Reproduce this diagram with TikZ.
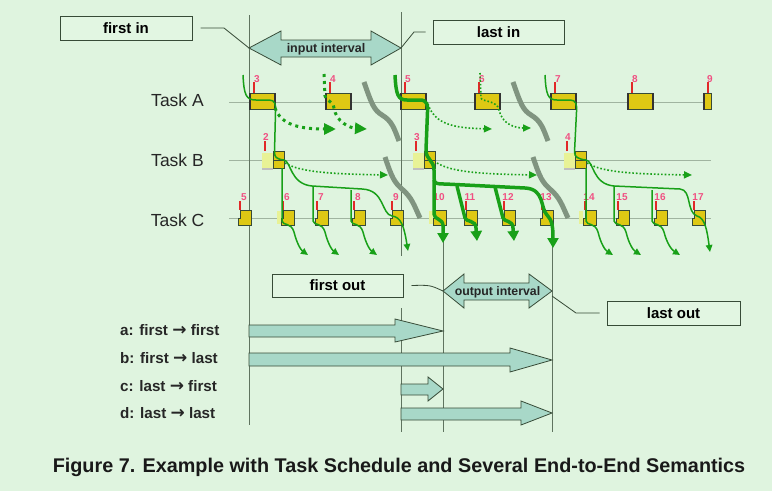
\documentclass[tikz,border=0pt]{standalone}
\usepackage{fontspec}
\setmainfont{Liberation Sans}
\newfontfamily\arrowfont{DejaVu Sans}
\usetikzlibrary{arrows.meta,calc}
\definecolor{bg}{RGB}{223,244,223}
\definecolor{boxfill}{RGB}{226,246,226}
\definecolor{edge}{RGB}{55,75,55}
\definecolor{tealf}{RGB}{168,216,200}
\definecolor{vline}{RGB}{95,115,95}
\definecolor{tline}{RGB}{160,180,160}
\definecolor{jobyellow}{RGB}{222,200,20}
\definecolor{pale}{RGB}{232,242,150}
\definecolor{mred}{RGB}{225,40,40}
\definecolor{mpink}{RGB}{240,80,130}
\definecolor{flow}{RGB}{24,160,24}
\definecolor{brk}{RGB}{128,148,128}
\newcommand{\semarrow}{{\arrowfont\bfseries\fontsize{17}{18}\selectfont →}}
\tikzset{
  labelbox/.style={draw=edge, line width=1pt, fill=boxfill, minimum width=132pt, minimum height=24pt, inner sep=0pt, font=\fontsize{15}{18}\selectfont\bfseries},
  tasklab/.style={font=\fontsize{17.5}{20}\selectfont, text=black!85, inner sep=0pt},
  semlab/.style={font=\fontsize{15.2}{18}\selectfont\bfseries, text=black!85, anchor=west, inner sep=0pt},
  intlab/.style={font=\fontsize{12.5}{14}\selectfont\bfseries, text=black!85, inner sep=0pt},
  leader/.style={draw=edge, line width=0.8pt},
  timeline/.style={draw=vline, line width=1pt},
  taskline/.style={draw=tline, line width=0.8pt},
  fatarrow/.style={draw=edge, line width=0.8pt, fill=tealf},
  jobA/.style={draw=edge, fill=jobyellow, minimum width=24pt, minimum height=16pt, inner sep=0pt, line width=0.7pt},
  jobB/.style={draw=edge, fill=jobyellow, minimum width=11pt, minimum height=17pt, inner sep=0pt, line width=0.9pt},
  jobCc/.style={minimum width=13pt, minimum height=15pt, inner sep=0pt},
  jobCshape/.style={draw=edge, fill=jobyellow, line width=1pt},
  sidebar/.style={draw=black!80, line width=2.4pt},
  marker/.style={draw=mred, line width=1.8pt},
  numlab/.style={font=\fontsize{10}{10}\selectfont\bfseries, text=mpink, inner sep=0pt},
  flowthin/.style={draw=flow, line width=1.5pt},
  flowthick/.style={draw=flow, line width=3.5pt},
  thintip/.style={-{Triangle[length=7pt,width=6.5pt]}},
  thicktip/.style={-{Triangle[length=10pt,width=11pt]}},
  dotthick/.style={draw=flow, line width=3pt, dash pattern=on 3pt off 4pt, -{Triangle[length=12pt,width=11pt]}},
  dotthin/.style={draw=flow, line width=1.6pt, dash pattern=on 1.6pt off 2pt, -{Triangle[length=8pt,width=7pt]}},
  breakline/.style={draw=brk, line width=5pt},
}
\begin{document}
\begin{tikzpicture}[x=1pt,y=-1pt]
\fill[bg] (0,0) rectangle (772,491);
\useasboundingbox (0,0) rectangle (772,491);

% task lines
\draw[taskline] (229,102) -- (711,102);
\draw[taskline] (229,160) -- (711,160);
\draw[taskline] (229,218) -- (711,218);

% time lines
\draw[timeline] (249,15) -- (249,425);
\draw[timeline] (401,12) -- (401,256);
\draw[timeline] (401,308) -- (401,432);
\draw[timeline] (443,216) -- (443,432);
\draw[timeline] (552,216) -- (552,432);

% task labels
\node[tasklab] (tA) at (177.5,100) {Task A};
\node[tasklab] (tB) at (177.5,160) {Task B};
\node[tasklab] (tC) at (177.5,220) {Task C};

% Task A jobs
\foreach \n/\l in {3/250,4/326,5/401,6/475,7/551,8/628}{
  \node[jobA, anchor=north west] (A\n) at (\l,93) {};
  \draw[sidebar] (A\n.north west) -- (A\n.south west) (A\n.north east) -- (A\n.south east);
  \draw[marker] (\l+4,82) -- (\l+4,93);
  \node[numlab] (nA\n) at (\l+7,79) {\n};
}
\node[jobA, anchor=north west, minimum width=7pt] (A9) at (704,93) {};
\draw[sidebar] (A9.north west) -- (A9.south west);
\draw[marker] (708,82) -- (708,93);
\node[numlab] (nA9) at (710,79) {9};

% Task B jobs
\foreach \n/\l in {2/273,3/424,4/575}{
  \fill[pale] (\l-11,153) rectangle (\l,168);
  \fill[black!25] (\l-11,168) rectangle (\l,170);
  \node[jobB, anchor=north west] (B\n) at (\l,151) {};
  \draw[edge, line width=0.9pt] (B\n.west) -- (B\n.east);
  \draw[marker] (\l-8,141) -- (\l-8,151);
  \node[numlab] (nB\n) at (\l-7,137) {\n};
}

% Task C jobs
\foreach \l in {281,433,583}{
  \fill[pale] (\l-4,211) rectangle (\l,224);
}
\foreach \n/\l in {5/238,6/281,7/315,8/352,9/390,10/433,11/464,12/502,13/540,14/583,15/616,16/654,17/692}{
  \node[jobCc, anchor=north west] (C\n) at (\l,210) {};
  \draw[jobCshape] (\l,225) -- (\l,218) -- (\l+2,218) -- (\l+2,210) -- (\l+13,210) -- (\l+13,225) -- cycle;
  \draw[marker] (\l+2,201) -- (\l+2,210);
  \node[numlab] (nC\n) at (\l+6,197) {\n};
}

% gray break curves
\draw[breakline] (364,82) .. controls (372,105) and (374,110) .. (382,115) .. controls (392,121) and (394,128) .. (399,141);
\draw[breakline] (513,82) .. controls (521,105) and (523,110) .. (531,115) .. controls (541,121) and (543,128) .. (548,141);
\draw[breakline] (385,157) .. controls (392,178) and (394,182) .. (403,190) .. controls (412,198) and (414,205) .. (420,218);
\draw[breakline] (533,157) .. controls (540,178) and (542,182) .. (551,190) .. controls (560,198) and (562,205) .. (568,218);

% dotted flows
\draw[dotthick] (275,108) .. controls (281,125) and (300,129) .. (336,129);
\draw[dotthick] (324,74) -- (325,96) .. controls (326,102) and (333,100) .. (334,108) .. controls (336,122) and (350,128) .. (367,129);
\draw[dotthin] (428,104) .. controls (435,125) and (455,128) .. (492,129);
\draw[dotthin] (480,73) -- (481,98) .. controls (482,102) and (497,100) .. (499,110) .. controls (502,124) and (515,128) .. (531,128);
\draw[dotthin] (285,163) .. controls (300,172) and (330,174) .. (388,175);
\draw[dotthin] (437,163) .. controls (452,172) and (480,174) .. (537,175);
\draw[dotthin] (587,163) .. controls (602,172) and (630,174) .. (692,175);

% thin flow A3 -> B2 -> C6..C9
\draw[flowthin, thintip] (243,75) .. controls (244,95) and (246,100) .. (256,100) -- (269,100) .. controls (275,100) and (276,104) .. (275.5,112) -- (274.5,152) .. controls (274.5,157) and (276,159) .. (284,160) .. controls (291,161) and (290,184) .. (312,186) -- (362,189) .. controls (385,190) and (381,214) .. (392,216) .. controls (401,217) and (404,226) .. (408,251);
\draw[flowthin, thintip] (282,168) -- (282,221) .. controls (283,226) and (291,222) .. (294,232) .. controls (297,244) and (301,250) .. (308,255);
\draw[flowthin, thintip] (313,186) -- (313,221) .. controls (314,226) and (322,222) .. (325,232) .. controls (328,244) and (332,250) .. (339,255);
\draw[flowthin, thintip] (351,190) -- (351,221) .. controls (352,226) and (360,222) .. (363,232) .. controls (366,244) and (370,250) .. (377,255);

% thick flow A5 -> B3 -> C10..C13
\draw[flowthick, thicktip] (395,75) .. controls (396,95) and (398,100) .. (407,100) -- (420,100) .. controls (427,100) and (428,105) .. (427.5,112) -- (426,150) .. controls (426,160) and (434,160) .. (434,170) -- (434,178) .. controls (434,184) and (437,184) .. (445,184) -- (525,188) .. controls (545,189) and (540,208) .. (547,215) .. controls (552,220) and (553,226) .. (553,248);
\draw[flowthick, thicktip] (434,180) -- (434,214) .. controls (434,220) and (443,218) .. (443,226) -- (443,243);
\draw[flowthick, thicktip] (457,186) -- (465,218) .. controls (466,222) and (476,220) .. (476,228) -- (477,241);
\draw[flowthick, thicktip] (495,187) -- (503,218) .. controls (504,222) and (513,220) .. (513,228) -- (514,241);

% thin flow A7 -> B4 -> C14..C17
\draw[flowthin, thintip] (545,75) .. controls (546,95) and (548,100) .. (557,100) -- (570,100) .. controls (576,100) and (577,104) .. (576.5,112) -- (574.5,152) .. controls (574.5,157) and (578,159) .. (586,160) .. controls (594,161) and (592,184) .. (614,186) -- (680,189) .. controls (692,190) and (686,212) .. (697,216) .. controls (705,218) and (707,230) .. (710,252);
\draw[flowthin, thintip] (586,168) -- (586,221) .. controls (587,226) and (595,222) .. (598,232) .. controls (601,244) and (605,250) .. (613,255);
\draw[flowthin, thintip] (614,186) -- (614,221) .. controls (615,226) and (623,222) .. (626,232) .. controls (629,244) and (633,250) .. (641,255);
\draw[flowthin, thintip] (652,190) -- (652,221) .. controls (653,226) and (661,222) .. (664,232) .. controls (667,244) and (672,250) .. (680,255);

% input interval
\draw[fatarrow] (249,48) -- (281,31) -- (281,40) -- (371,40) -- (371,31) -- (401,48) -- (371,65) -- (371,57) -- (281,57) -- (281,65) -- cycle;
\node[intlab] (ii) at (326,49) {input interval};

% output interval
\draw[fatarrow] (443,291) -- (464,274) -- (464,283) -- (529,283) -- (529,274) -- (552,291) -- (529,308) -- (529,300) -- (464,300) -- (464,308) -- cycle;
\node[intlab, font=\fontsize{12.3}{14}\selectfont\bfseries] (oi) at (497.5,292) {output interval};

% label boxes
\node[labelbox] (fin) at (126,28) {first in};
\node[labelbox, minimum width=131pt] (lin) at (498.5,32) {last in};
\node[labelbox, minimum width=131pt, minimum height=23pt] (fout) at (337.5,285.5) {first out};
\node[labelbox, minimum width=133pt] (lout) at (673.5,313) {last out};
\draw[leader] ($(fin.east)+(8,0)$) -- (224,28) -- (249,48);
\draw[leader] ($(lin.west)+(-7,0)$) -- (414,32) -- (401,48);
\draw[leader] ($(fout.east)+(8,0)$) .. controls (430,285) .. (443,291);
\draw[leader] (552,296) -- (576,313) -- ($(lout.west)+(-7,0)$);

% semantics arrows
\draw[fatarrow] (249,325) -- (395,325) -- (395,319) -- (443,331) -- (395,342) -- (395,337) -- (249,337) -- cycle;
\draw[fatarrow] (249,353) -- (510,353) -- (510,348) -- (552,360) -- (510,372) -- (510,366) -- (249,366) -- cycle;
\draw[fatarrow] (401,384) -- (428,384) -- (428,377) -- (443,389) -- (428,401) -- (428,395) -- (401,395) -- cycle;
\draw[fatarrow] (401,408) -- (521,408) -- (521,401) -- (552,413) -- (521,425) -- (521,420) -- (401,420) -- cycle;
\node[semlab] (sa) at (120,330) {a: first \semarrow{} first};
\node[semlab] (sb) at (120,358) {b: first \semarrow{} last};
\node[semlab] (sc) at (120,386) {c: last \semarrow{} first};
\node[semlab] (sd) at (120,413) {d: last \semarrow{} last};

% caption
\node[font=\fontsize{19.8}{22}\selectfont\bfseries, text=black!90, inner sep=0pt] (cap) at (399,467) {Figure 7. Example with Task Schedule and Several End-to-End Semantics};
\end{tikzpicture}
\end{document}
